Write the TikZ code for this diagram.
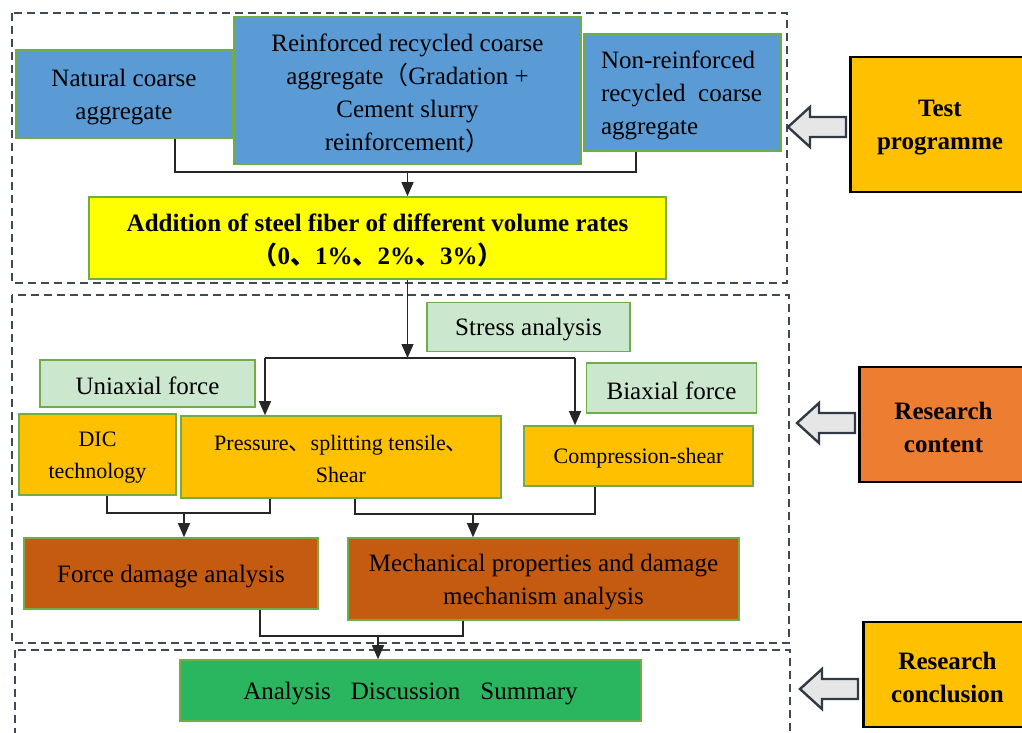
\documentclass[tikz,border=0pt]{standalone}
\usepackage{fontspec}
\setmainfont{Liberation Serif}
\newfontfamily\cjk{Noto Sans CJK SC}
\usetikzlibrary{calc,arrows.meta}
\definecolor{blu}{HTML}{5B9BD5}
\definecolor{yel}{HTML}{FFFF00}
\definecolor{lgr}{HTML}{CBE7CE}
\definecolor{org}{HTML}{FFC000}
\definecolor{brn}{HTML}{C55A11}
\definecolor{grn}{HTML}{2AB65E}
\definecolor{red}{HTML}{ED7D31}
\definecolor{edge}{HTML}{70AD47}
\definecolor{frm}{HTML}{404A54}
\definecolor{arrf}{HTML}{E6E6E6}
\definecolor{arrd}{HTML}{2F3A45}

\begin{document}
\begin{tikzpicture}[x=.5pt,y=-.5pt,
	box/.style={draw=edge,line width=.8pt,align=flush center,inner sep=2pt,font=\fontsize{12.5}{16.5}\selectfont,
		execute at begin node={\rule{0pt}{.9em}}},
	small/.style={font=\fontsize{11}{16}\selectfont},
	sz/.style 2 args={minimum width=#1*.5pt,minimum height=#2*.5pt,text width=(#1-12)*.5pt},
	lbl/.style={draw=black,line width=1.2pt,fill=#1,align=flush center,font=\bfseries\fontsize{12.5}{16.5}\selectfont,
		execute at begin node={\rule{0pt}{.9em}}},
	frame/.style={draw=frm,line width=1.1pt,dash pattern=on 4pt off 2.5pt},
	link/.style={draw=black!85,line width=.6pt},
	arr/.style={link,-{Triangle[width=6pt,length=7pt]}},
	blk/.style={draw=arrd,fill=arrf,line width=1.2pt,line join=miter}]
	\useasboundingbox (0,0) rectangle (1022,733);
	% dashed frames
	\draw[frame] (12,13) rectangle (787,283);
	\draw[frame] (12,295) rectangle (789,643);
	\draw[frame] (15,650) rectangle (790,745);
	% test programme
	\node[box,fill=blu,sz={216}{88}] (nat) at (124,94) {Natural coarse\\aggregate};
	\node[box,fill=blu,sz={347}{147}] (reinf) at (407.5,90.5) {Reinforced recycled coarse\\aggregate{\cjk（}Gradation +\\Cement slurry\\reinforcement{\cjk）}};
	\node[box,fill=blu,sz={197}{117},align=flush left,text width=163*.5pt] (nonr) at (682.5,92.5) {Non-reinforced\\recycled\ \ coarse\\aggregate};
	\node[box,fill=yel,sz={577}{82},font=\bfseries\fontsize{12.5}{16.5}\selectfont] (yel) at (377.5,238) {Addition of steel fiber of different volume rates\\{\cjk（}0{\cjk、}1\%{\cjk、}2\%{\cjk、}3\%{\cjk）}};
	% research content
	\node[box,fill=lgr,sz={203}{49}] (stress) at (528.5,327) {Stress analysis};
	\node[box,fill=lgr,sz={215}{47}] (uni) at (147.5,383.5) {Uniaxial force};
	\node[box,fill=lgr,sz={170}{50}] (bi) at (671.5,388) {Biaxial force};
	\node[box,small,fill=org,sz={157}{81}] (dic) at (97.5,454.5) {DIC\\technology};
	\node[box,small,fill=org,sz={320}{82}] (press) at (341,457) {Pressure{\cjk、}splitting tensile{\cjk、}\\Shear};
	\node[box,small,fill=org,sz={229}{60}] (comp) at (638.5,456) {Compression-shear};
	\node[box,fill=brn,sz={294}{71}] (force) at (171,573.5) {Force damage analysis};
	\node[box,fill=brn,sz={391}{82}] (mech) at (543.5,579) {Mechanical properties and damage\\mechanism analysis};
	% research conclusion
	\node[box,fill=grn,sz={461}{61}] (ana) at (410.5,690.5) {Analysis\hspace{.8em}Discussion\hspace{.8em}Summary};
	% side labels
	\node[lbl=org,sz={178}{135}] (test) at (940,124.5) {Test\\programme};
	\node[lbl=red,sz={167}{115}] (rcont) at (943.5,424.5) {Research\\content};
	\node[lbl=org,sz={167}{105}] (rconc) at (947.5,674.5) {Research\\conclusion};
	\foreach \t/\c in {788/127,797/423,800/689}
		\draw[blk] (\t,\c) -- ++(22,-20) -- ++(0,10) -- ++(36,0) -- ++(0,20) -- ++(-36,0) -- ++(0,10) -- cycle;
	% connectors
	\path
	(175,172) coordinate (t1) (636,172) coordinate (t2)
	(265,358) coordinate (s1) (575,358) coordinate (s2)
	(107,513) coordinate (m1) (270,513) coordinate (m2) (184,513) coordinate (m3)
	(355,514) coordinate (m4) (595,514) coordinate (m5) (473,514) coordinate (m6)
	(260,636) coordinate (b1) (463,636) coordinate (b2) (378,636) coordinate (b3);
	\draw[link] (t1 |- nat.south) -- (t1) -- (t2) -- (t2 |- nonr.south)
	(s1) -- (s2)
	(m1 |- dic.south) -- (m1) -- (m2) -- (m2 |- press.south)
	(m4 |- press.south) -- (m4) -- (m5) -- (m5 |- comp.south)
	(b1 |- force.south) -- (b1) -- (b2) -- (b2 |- mech.south);
	\draw[arr] (reinf.south |- t1) -- (reinf.south |- yel.north);
	\draw[arr] (reinf.south |- yel.south) -- (reinf.south |- s1);
	\foreach \a/\b in {s1/press,s2/comp,m3/force,m6/mech,b3/ana} \draw[arr] (\a) -- (\a |- \b.north);
\end{tikzpicture}
\end{document}
